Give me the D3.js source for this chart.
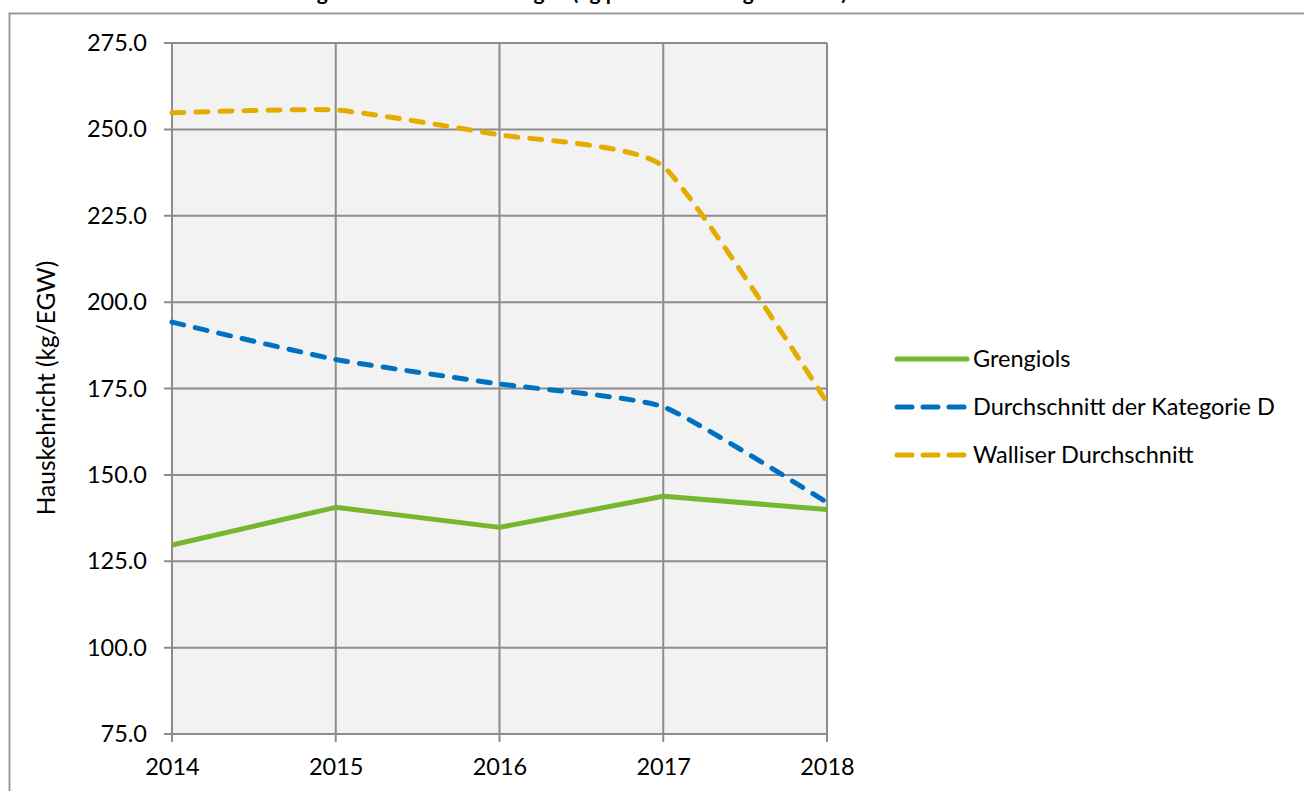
<!DOCTYPE html>
<html>
<head>
<meta charset="utf-8">
<script src="https://cdn.jsdelivr.net/npm/d3@7"></script>
<style>
  body { margin: 0; background: #fff; }
  text { font-family: Lato, "Open Sans", sans-serif; fill: #000; }
</style>
</head>
<body>
<div class="chart"></div>
<script>
var years = [2014, 2015, 2016, 2017, 2018];
var grengiols = [129.7, 140.6, 134.8, 143.8, 140.0];
var kategorieD = [194.2, 183.4, 176.3, 169.7, 142.0];
var wallis = [254.8, 255.6, 248.4, 239.3, 171.0];
var yTicks = [75, 100, 125, 150, 175, 200, 225, 250, 275];

var series = [
  { name: "Grengiols", values: grengiols, color: "#77b72f", dash: null, smooth: false },
  { name: "Durchschnitt der Kategorie D", values: kategorieD, color: "#0070c0", dash: "12,12", smooth: true },
  { name: "Walliser Durchschnitt", values: wallis, color: "#e5ac00", dash: "12,12", smooth: true }
];

var fontSize = "23.5px";
var svgWidth = 1304;
var svgHeight = 791;
var margin = { top: 43, right: 477, bottom: 57, left: 172 };
var width = svgWidth - margin.left - margin.right;
var height = svgHeight - margin.top - margin.bottom;

var svg = d3.select(".chart")
  .append("svg")
  .attr("width", svgWidth)
  .attr("height", svgHeight);

// title, cut off at the top edge like in the source picture
svg.append("text")
  .attr("x", 530)
  .attr("y", 0)
  .attr("text-anchor", "middle")
  .attr("font-size", "21px")
  .attr("font-weight", "bold")
  .text("Entwicklung der Hauskehrichtmengen (kg pro Einwohnergleichwert)");

// chart frame
svg.append("rect")
  .attr("x", 9.5)
  .attr("y", 13.5)
  .attr("width", 1400)
  .attr("height", 900)
  .attr("fill", "none")
  .attr("stroke", "#9a9a9a")
  .attr("stroke-width", 2);

var chartGroup = svg.append("g")
  .attr("transform", `translate(${margin.left}, ${margin.top})`);

var x = d3.scalePoint()
  .domain(years)
  .range([0, width]);

var y = d3.scaleLinear()
  .domain([75, 275])
  .range([height, 0]);

chartGroup.append("rect")
  .attr("width", width)
  .attr("height", height)
  .attr("fill", "#f2f2f2");

// grid
chartGroup.append("g")
  .selectAll("line")
  .data(yTicks)
  .enter()
  .append("line")
  .attr("x1", -8)
  .attr("x2", width)
  .attr("y1", d => y(d))
  .attr("y2", d => y(d))
  .attr("stroke", "#8c8c8c")
  .attr("stroke-width", 2);

chartGroup.append("g")
  .selectAll("line")
  .data(years)
  .enter()
  .append("line")
  .attr("x1", d => x(d))
  .attr("x2", d => x(d))
  .attr("y1", 0)
  .attr("y2", height + 8)
  .attr("stroke", "#8c8c8c")
  .attr("stroke-width", 2);

// axes labels
var leftAxis = d3.axisLeft(y).tickValues(yTicks).tickFormat(d3.format(".1f")).tickSize(0).tickPadding(25);
var bottomAxis = d3.axisBottom(x).tickSize(0).tickPadding(24).tickFormat(d3.format("d"));

var ya = chartGroup.append("g").call(leftAxis);
var xa = chartGroup.append("g").attr("transform", `translate(0, ${height})`).call(bottomAxis);
[ya, xa].forEach(function(a) {
  a.select(".domain").remove();
  a.selectAll("text").attr("font-size", fontSize).attr("font-family", "Lato, 'Open Sans', sans-serif").attr("fill", "#000");
});

// lines
series.forEach(function(s) {
  var line = d3.line()
    .x((d, i) => x(years[i]))
    .y(d => y(d))
    .curve(s.smooth ? d3.curveCardinal.tension(0.5) : d3.curveLinear);
  chartGroup.append("path")
    .datum(s.values)
    .attr("d", line)
    .attr("fill", "none")
    .attr("stroke", s.color)
    .attr("stroke-width", 5)
    .attr("stroke-linecap", s.dash ? "round" : "butt")
    .attr("stroke-linejoin", "round")
    .attr("stroke-dasharray", s.dash);
});

// y axis title
svg.append("text")
  .attr("transform", "translate(55, 388) rotate(-90)")
  .attr("text-anchor", "middle")
  .attr("font-size", "24.5px")
  .text("Hauskehricht (kg/EGW)");

// legend
var legend = svg.append("g").attr("transform", "translate(897, 359)");
var items = legend.selectAll("g")
  .data(series)
  .enter()
  .append("g")
  .attr("transform", (d, i) => `translate(0, ${i * 48})`);

items.append("line")
  .attr("x1", 0)
  .attr("x2", 70)
  .attr("stroke", d => d.color)
  .attr("stroke-width", 5)
  .attr("stroke-linecap", "round")
  .attr("stroke-dasharray", d => d.dash ? "15,11" : null);

items.append("text")
  .attr("x", 76)
  .attr("dy", "0.35em")
  .attr("font-size", fontSize)
  .text(d => d.name);
</script>
</body>
</html>
